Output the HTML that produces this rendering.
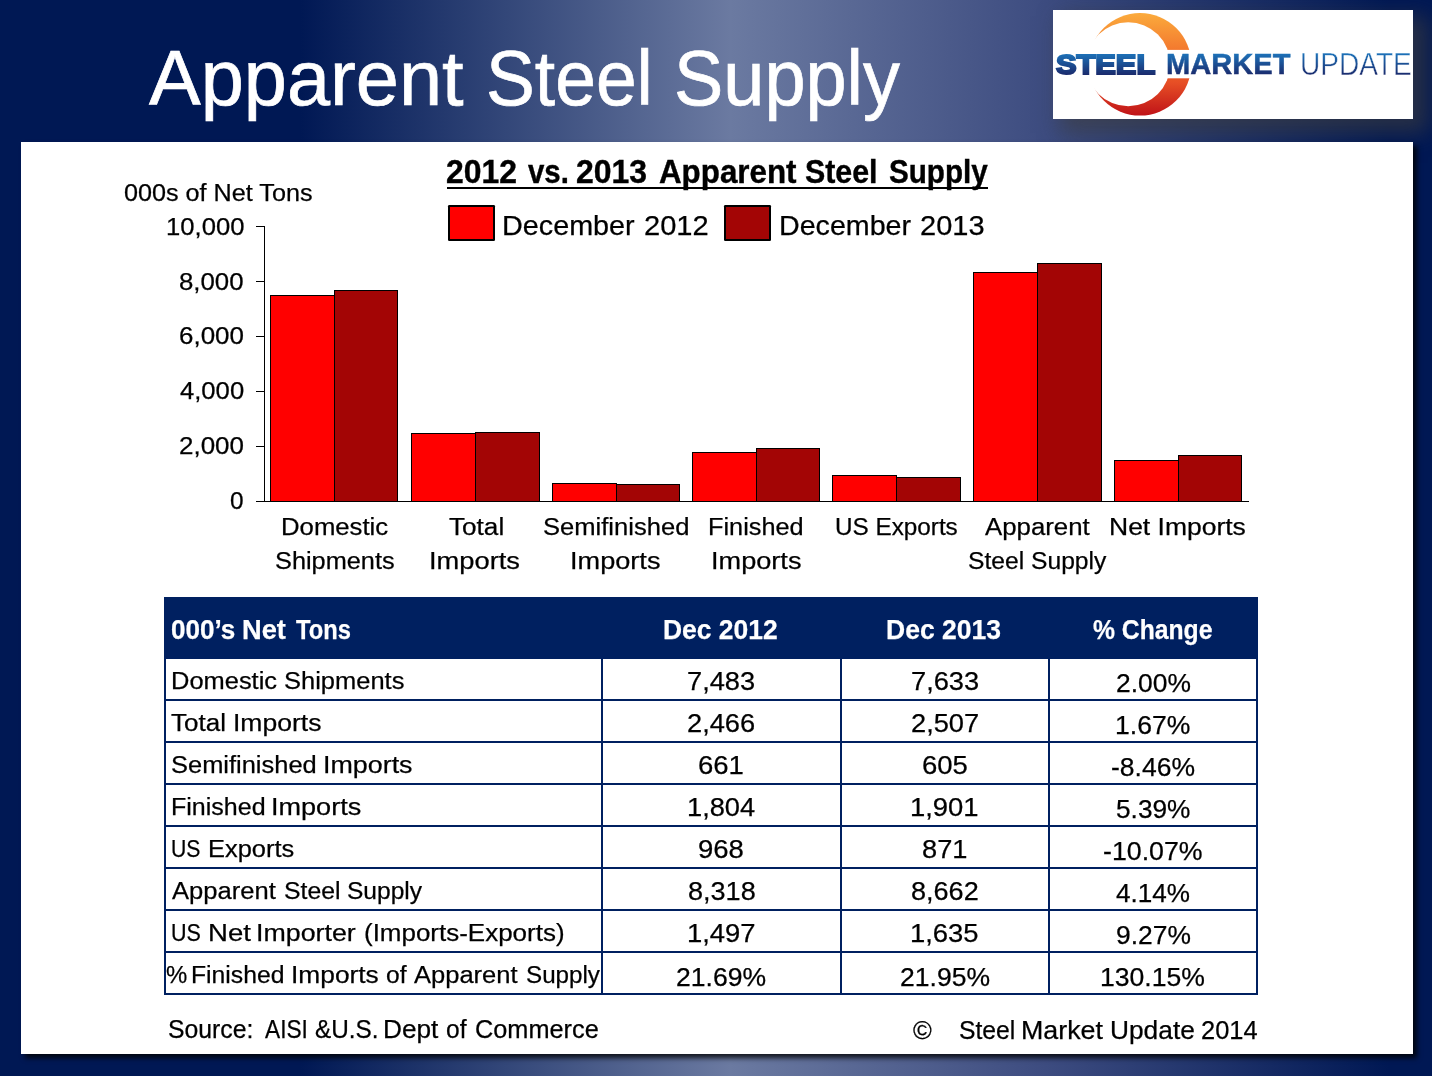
<!DOCTYPE html>
<html><head><meta charset="utf-8"><title>Apparent Steel Supply</title>
<style>
html,body{margin:0;padding:0}
body{width:1432px;height:1076px;overflow:hidden;position:relative;font-family:"Liberation Sans",sans-serif;
background:linear-gradient(to right,#001854 0%,#001854 21%,#6b7aa1 51%,#3d4c80 73%,#001854 97%,#001854 100%)}
.panel{position:absolute;left:21px;top:142px;width:1392px;height:912px;background:#fff;box-shadow:4px 4px 5px rgba(0,0,0,0.8)}
.t{position:absolute;white-space:nowrap;line-height:0;transform-origin:0 0;-webkit-text-stroke:0.25px currentColor}
.ln{position:absolute;background:#000}
.bar{position:absolute;box-sizing:border-box;border:1px solid #000}
.lg{position:absolute;background:#000;border-radius:1.2px}
.lg i{position:absolute;left:1.8px;top:1.8px;right:1.8px;bottom:1.8px}
</style></head><body>
<div style="position:absolute;left:1053px;top:10px;width:360px;height:109px;box-shadow:11px 10px 20px 4px rgba(62,62,62,0.62)"></div>
<div class="panel"></div>
<svg style="position:absolute;left:1053px;top:10px" width="360" height="109" viewBox="1053 10 360 109">
<defs>
<linearGradient id="og" x1="0" y1="13" x2="0" y2="116" gradientUnits="userSpaceOnUse"><stop offset="0" stop-color="#fbab3c"/><stop offset="0.42" stop-color="#f2702c"/><stop offset="0.68" stop-color="#e64e25"/><stop offset="1" stop-color="#bf1218"/></linearGradient>
<linearGradient id="bg" x1="0" y1="53" x2="0" y2="75" gradientUnits="userSpaceOnUse"><stop offset="0" stop-color="#1d74bb"/><stop offset="1" stop-color="#1a2a6c"/></linearGradient>
<mask id="mk"><rect x="1053" y="10" width="360" height="109" fill="#fff"/><circle cx="1128.2" cy="64.3" r="42.0" fill="#000"/><rect x="1053" y="49.9" width="360" height="28.4" fill="#000"/></mask>
</defs>
<rect x="1053" y="10" width="360" height="109" fill="#fff"/>
<circle cx="1140" cy="64.3" r="51.3" fill="url(#og)" mask="url(#mk)"/>
<g font-family="Liberation Sans, sans-serif" fill="url(#bg)" opacity="0.995">
<text x="1055.9" y="74.0" font-size="27.8" font-weight="bold" stroke="url(#bg)" stroke-width="2.0" textLength="99.4" lengthAdjust="spacingAndGlyphs">STEEL</text>
<text x="1166.1" y="74.2" font-size="29.8" font-weight="bold" stroke="url(#bg)" stroke-width="0.5" textLength="124.4" lengthAdjust="spacingAndGlyphs">MARKET</text>
<text x="1300.0" y="74.5" font-size="30.6" stroke="#fff" stroke-width="0.45" textLength="111.8" lengthAdjust="spacingAndGlyphs">UPDATE</text>
</g>
</svg>
<div class="ln" style="left:264px;top:226px;width:1px;height:276px"></div>
<div class="ln" style="left:256px;top:226px;width:8px;height:1px"></div>
<div class="ln" style="left:256px;top:281px;width:8px;height:1px"></div>
<div class="ln" style="left:256px;top:336px;width:8px;height:1px"></div>
<div class="ln" style="left:256px;top:391px;width:8px;height:1px"></div>
<div class="ln" style="left:256px;top:446px;width:8px;height:1px"></div>
<div class="bar" style="left:270px;top:295px;width:65px;height:207px;background:#ff0000"></div>
<div class="bar" style="left:334px;top:290px;width:64px;height:212px;background:#a30505"></div>
<div class="bar" style="left:411px;top:433px;width:65px;height:69px;background:#ff0000"></div>
<div class="bar" style="left:475px;top:432px;width:65px;height:70px;background:#a30505"></div>
<div class="bar" style="left:552px;top:483px;width:65px;height:19px;background:#ff0000"></div>
<div class="bar" style="left:616px;top:484px;width:64px;height:18px;background:#a30505"></div>
<div class="bar" style="left:692px;top:452px;width:65px;height:50px;background:#ff0000"></div>
<div class="bar" style="left:756px;top:448px;width:64px;height:54px;background:#a30505"></div>
<div class="bar" style="left:832px;top:475px;width:65px;height:27px;background:#ff0000"></div>
<div class="bar" style="left:896px;top:477px;width:65px;height:25px;background:#a30505"></div>
<div class="bar" style="left:973px;top:272px;width:65px;height:230px;background:#ff0000"></div>
<div class="bar" style="left:1037px;top:263px;width:65px;height:239px;background:#a30505"></div>
<div class="bar" style="left:1114px;top:460px;width:65px;height:42px;background:#ff0000"></div>
<div class="bar" style="left:1178px;top:455px;width:64px;height:47px;background:#a30505"></div>
<div class="ln" style="left:256px;top:501px;width:993px;height:1px"></div>
<div class="lg" style="left:448px;top:205.1px;width:46.8px;height:35.7px"><i style="background:#ff0000"></i></div>
<div class="lg" style="left:724.2px;top:205.1px;width:46.8px;height:35.7px"><i style="background:#a30505"></i></div>
<div style="position:absolute;left:447px;top:187.2px;width:541px;height:2.2px;background:#000"></div>
<div style="position:absolute;left:164px;top:596.7px;width:1094px;height:62px;background:#002060"></div>
<div style="position:absolute;left:164px;top:699.00px;width:1094px;height:2px;background:#002060"></div>
<div style="position:absolute;left:164px;top:741.00px;width:1094px;height:2px;background:#002060"></div>
<div style="position:absolute;left:164px;top:783.00px;width:1094px;height:2px;background:#002060"></div>
<div style="position:absolute;left:164px;top:825.00px;width:1094px;height:2px;background:#002060"></div>
<div style="position:absolute;left:164px;top:867.00px;width:1094px;height:2px;background:#002060"></div>
<div style="position:absolute;left:164px;top:909.00px;width:1094px;height:2px;background:#002060"></div>
<div style="position:absolute;left:164px;top:951.00px;width:1094px;height:2px;background:#002060"></div>
<div style="position:absolute;left:164px;top:993.00px;width:1094px;height:2px;background:#002060"></div>
<div style="position:absolute;left:164px;top:658px;width:2px;height:337px;background:#002060"></div>
<div style="position:absolute;left:601px;top:658px;width:2px;height:337px;background:#002060"></div>
<div style="position:absolute;left:840px;top:658px;width:2px;height:337px;background:#002060"></div>
<div style="position:absolute;left:1048px;top:658px;width:2px;height:337px;background:#002060"></div>
<div style="position:absolute;left:1256px;top:658px;width:2px;height:337px;background:#002060"></div>
<div class="t" style="left:149.00px;top:78.25px;font-size:77.14px;font-weight:normal;color:#fff;transform:scaleX(1.0052);-webkit-text-stroke:0.7px #fff;">Apparent</div>
<div class="t" style="left:486.31px;top:78.25px;font-size:77.14px;font-weight:normal;color:#fff;transform:scaleX(0.9493);-webkit-text-stroke:0.7px #fff;">Steel</div>
<div class="t" style="left:674.39px;top:78.25px;font-size:77.14px;font-weight:normal;color:#fff;transform:scaleX(0.9582);-webkit-text-stroke:0.7px #fff;">Supply</div>
<div class="t" style="left:446.20px;top:172.25px;font-size:32.43px;font-weight:bold;color:#000;transform:scaleX(0.9827);-webkit-text-stroke:0.4px #000;">2012</div>
<div class="t" style="left:528.00px;top:172.25px;font-size:32.43px;font-weight:bold;color:#000;transform:scaleX(0.9058);-webkit-text-stroke:0.4px #000;">vs.</div>
<div class="t" style="left:575.90px;top:172.25px;font-size:32.43px;font-weight:bold;color:#000;transform:scaleX(0.9841);-webkit-text-stroke:0.4px #000;">2013</div>
<div class="t" style="left:658.51px;top:172.25px;font-size:32.43px;font-weight:bold;color:#000;transform:scaleX(0.9663);-webkit-text-stroke:0.4px #000;">Apparent</div>
<div class="t" style="left:805.23px;top:172.25px;font-size:32.43px;font-weight:bold;color:#000;transform:scaleX(0.9363);-webkit-text-stroke:0.4px #000;">Steel</div>
<div class="t" style="left:888.54px;top:172.25px;font-size:32.43px;font-weight:bold;color:#000;transform:scaleX(0.9137);-webkit-text-stroke:0.4px #000;">Supply</div>
<div class="t" style="left:123.81px;top:192.75px;font-size:24.29px;font-weight:normal;color:#000;transform:scaleX(1.0369);">000s of Net Tons</div>
<div class="t" style="left:502.25px;top:225.75px;font-size:28.00px;font-weight:normal;color:#000;transform:scaleX(1.0273);">December</div>
<div class="t" style="left:643.94px;top:225.75px;font-size:28.00px;font-weight:normal;color:#000;transform:scaleX(1.0394);">2012</div>
<div class="t" style="left:778.66px;top:225.75px;font-size:28.00px;font-weight:normal;color:#000;transform:scaleX(1.0226);">December</div>
<div class="t" style="left:919.64px;top:225.75px;font-size:28.00px;font-weight:normal;color:#000;transform:scaleX(1.0361);">2013</div>
<div class="t" style="left:165.50px;top:226.75px;font-size:24.29px;font-weight:normal;color:#000;transform:scaleX(1.0560);">10,000</div>
<div class="t" style="left:179.39px;top:281.75px;font-size:24.29px;font-weight:normal;color:#000;transform:scaleX(1.0621);">8,000</div>
<div class="t" style="left:178.98px;top:335.75px;font-size:24.29px;font-weight:normal;color:#000;transform:scaleX(1.0689);">6,000</div>
<div class="t" style="left:179.80px;top:390.75px;font-size:24.29px;font-weight:normal;color:#000;transform:scaleX(1.0554);">4,000</div>
<div class="t" style="left:178.98px;top:445.75px;font-size:24.29px;font-weight:normal;color:#000;transform:scaleX(1.0689);">2,000</div>
<div class="t" style="left:230.34px;top:500.75px;font-size:24.29px;font-weight:normal;color:#000;transform:scaleX(1.0047);">0</div>
<div class="t" style="left:280.55px;top:526.75px;font-size:24.29px;font-weight:normal;color:#000;transform:scaleX(1.0593);">Domestic</div>
<div class="t" style="left:275.17px;top:560.75px;font-size:24.29px;font-weight:normal;color:#000;transform:scaleX(1.0422);">Shipments</div>
<div class="t" style="left:448.51px;top:526.75px;font-size:24.29px;font-weight:normal;color:#000;transform:scaleX(1.0767);">Total</div>
<div class="t" style="left:429.34px;top:560.75px;font-size:24.29px;font-weight:normal;color:#000;transform:scaleX(1.1237);">Imports</div>
<div class="t" style="left:543.09px;top:526.75px;font-size:24.29px;font-weight:normal;color:#000;transform:scaleX(1.0532);">Semifinished</div>
<div class="t" style="left:570.12px;top:560.75px;font-size:24.29px;font-weight:normal;color:#000;transform:scaleX(1.1173);">Imports</div>
<div class="t" style="left:708.42px;top:526.75px;font-size:24.29px;font-weight:normal;color:#000;transform:scaleX(1.0414);">Finished</div>
<div class="t" style="left:710.63px;top:560.75px;font-size:24.29px;font-weight:normal;color:#000;transform:scaleX(1.1173);">Imports</div>
<div class="t" style="left:835.25px;top:526.75px;font-size:24.29px;font-weight:normal;color:#000;transform:scaleX(0.9997);">US Exports</div>
<div class="t" style="left:985.13px;top:526.75px;font-size:24.29px;font-weight:normal;color:#000;transform:scaleX(1.0624);">Apparent</div>
<div class="t" style="left:967.96px;top:560.75px;font-size:24.29px;font-weight:normal;color:#000;transform:scaleX(1.0148);">Steel Supply</div>
<div class="t" style="left:1108.97px;top:526.75px;font-size:24.29px;font-weight:normal;color:#000;transform:scaleX(1.0907);">Net Imports</div>
<div class="t" style="left:171.39px;top:630.25px;font-size:26.86px;font-weight:bold;color:#fff;transform:scaleX(0.9707);">000’s</div>
<div class="t" style="left:242.30px;top:630.25px;font-size:26.86px;font-weight:bold;color:#fff;transform:scaleX(1.0129);">Net</div>
<div class="t" style="left:295.80px;top:630.25px;font-size:26.86px;font-weight:bold;color:#fff;transform:scaleX(0.8842);">Tons</div>
<div class="t" style="left:662.90px;top:630.25px;font-size:26.86px;font-weight:bold;color:#fff;transform:scaleX(0.9840);">Dec 2012</div>
<div class="t" style="left:886.19px;top:630.25px;font-size:26.86px;font-weight:bold;color:#fff;transform:scaleX(0.9875);">Dec 2013</div>
<div class="t" style="left:1093.21px;top:630.25px;font-size:26.86px;font-weight:bold;color:#fff;transform:scaleX(0.9197);">% Change</div>
<div class="t" style="left:170.81px;top:680.75px;font-size:24.29px;font-weight:normal;color:#000;transform:scaleX(1.0482);">Domestic</div>
<div class="t" style="left:283.70px;top:680.75px;font-size:24.29px;font-weight:normal;color:#000;transform:scaleX(1.0493);">Shipments</div>
<div class="t" style="left:687.12px;top:681.25px;font-size:25.71px;font-weight:normal;color:#000;transform:scaleX(1.0596);">7,483</div>
<div class="t" style="left:910.62px;top:681.25px;font-size:25.71px;font-weight:normal;color:#000;transform:scaleX(1.0596);">7,633</div>
<div class="t" style="left:1115.61px;top:683.25px;font-size:26.14px;font-weight:normal;color:#000;transform:scaleX(1.0108);">2.00%</div>
<div class="t" style="left:170.89px;top:722.75px;font-size:24.29px;font-weight:normal;color:#000;transform:scaleX(1.0706);">Total</div>
<div class="t" style="left:232.93px;top:722.75px;font-size:24.29px;font-weight:normal;color:#000;transform:scaleX(1.0918);">Imports</div>
<div class="t" style="left:687.12px;top:723.25px;font-size:25.71px;font-weight:normal;color:#000;transform:scaleX(1.0596);">2,466</div>
<div class="t" style="left:910.62px;top:723.25px;font-size:25.71px;font-weight:normal;color:#000;transform:scaleX(1.0596);">2,507</div>
<div class="t" style="left:1115.19px;top:725.25px;font-size:26.14px;font-weight:normal;color:#000;transform:scaleX(1.0165);">1.67%</div>
<div class="t" style="left:171.00px;top:764.75px;font-size:24.29px;font-weight:normal;color:#000;transform:scaleX(1.0481);">Semifinished</div>
<div class="t" style="left:323.00px;top:764.75px;font-size:24.29px;font-weight:normal;color:#000;transform:scaleX(1.1058);">Imports</div>
<div class="t" style="left:698.26px;top:765.25px;font-size:25.71px;font-weight:normal;color:#000;transform:scaleX(1.0700);">661</div>
<div class="t" style="left:921.76px;top:765.25px;font-size:25.71px;font-weight:normal;color:#000;transform:scaleX(1.0700);">605</div>
<div class="t" style="left:1111.27px;top:767.25px;font-size:26.14px;font-weight:normal;color:#000;transform:scaleX(1.0143);">-8.46%</div>
<div class="t" style="left:170.85px;top:806.75px;font-size:24.29px;font-weight:normal;color:#000;transform:scaleX(1.0301);">Finished</div>
<div class="t" style="left:271.28px;top:806.75px;font-size:24.29px;font-weight:normal;color:#000;transform:scaleX(1.1148);">Imports</div>
<div class="t" style="left:686.70px;top:807.25px;font-size:25.71px;font-weight:normal;color:#000;transform:scaleX(1.0596);">1,804</div>
<div class="t" style="left:910.19px;top:807.25px;font-size:25.71px;font-weight:normal;color:#000;transform:scaleX(1.0665);">1,901</div>
<div class="t" style="left:1116.03px;top:809.25px;font-size:26.14px;font-weight:normal;color:#000;transform:scaleX(1.0051);">5.39%</div>
<div class="t" style="left:171.48px;top:848.75px;font-size:24.29px;font-weight:normal;color:#000;transform:scaleX(0.8718);">US</div>
<div class="t" style="left:207.91px;top:848.75px;font-size:24.29px;font-weight:normal;color:#000;transform:scaleX(1.0467);">Exports</div>
<div class="t" style="left:698.26px;top:849.25px;font-size:25.71px;font-weight:normal;color:#000;transform:scaleX(1.0700);">968</div>
<div class="t" style="left:922.20px;top:849.25px;font-size:25.71px;font-weight:normal;color:#000;transform:scaleX(1.0595);">871</div>
<div class="t" style="left:1103.46px;top:851.25px;font-size:26.14px;font-weight:normal;color:#000;transform:scaleX(1.0232);">-10.07%</div>
<div class="t" style="left:172.20px;top:890.75px;font-size:24.29px;font-weight:normal;color:#000;transform:scaleX(1.0532);">Apparent</div>
<div class="t" style="left:284.13px;top:890.75px;font-size:24.29px;font-weight:normal;color:#000;transform:scaleX(1.0209);">Steel</div>
<div class="t" style="left:347.03px;top:890.75px;font-size:24.29px;font-weight:normal;color:#000;transform:scaleX(1.0109);">Supply</div>
<div class="t" style="left:687.55px;top:891.25px;font-size:25.71px;font-weight:normal;color:#000;transform:scaleX(1.0528);">8,318</div>
<div class="t" style="left:911.05px;top:891.25px;font-size:25.71px;font-weight:normal;color:#000;transform:scaleX(1.0528);">8,662</div>
<div class="t" style="left:1116.44px;top:893.25px;font-size:26.14px;font-weight:normal;color:#000;transform:scaleX(0.9995);">4.14%</div>
<div class="t" style="left:171.26px;top:932.75px;font-size:24.29px;font-weight:normal;color:#000;transform:scaleX(0.8846);">US</div>
<div class="t" style="left:208.15px;top:932.75px;font-size:24.29px;font-weight:normal;color:#000;transform:scaleX(1.1340);">Net</div>
<div class="t" style="left:255.91px;top:932.75px;font-size:24.29px;font-weight:normal;color:#000;transform:scaleX(1.1029);">Importer</div>
<div class="t" style="left:363.68px;top:932.75px;font-size:24.29px;font-weight:normal;color:#000;transform:scaleX(1.0693);">(Imports-Exports)</div>
<div class="t" style="left:686.69px;top:933.25px;font-size:25.71px;font-weight:normal;color:#000;transform:scaleX(1.0665);">1,497</div>
<div class="t" style="left:910.19px;top:933.25px;font-size:25.71px;font-weight:normal;color:#000;transform:scaleX(1.0665);">1,635</div>
<div class="t" style="left:1115.61px;top:935.25px;font-size:26.14px;font-weight:normal;color:#000;transform:scaleX(1.0108);">9.27%</div>
<div class="t" style="left:166.15px;top:974.75px;font-size:24.29px;font-weight:normal;color:#000;transform:scaleX(0.9845);">%</div>
<div class="t" style="left:191.07px;top:974.75px;font-size:24.29px;font-weight:normal;color:#000;transform:scaleX(1.0188);">Finished</div>
<div class="t" style="left:290.54px;top:974.75px;font-size:24.29px;font-weight:normal;color:#000;transform:scaleX(1.0841);">Imports</div>
<div class="t" style="left:386.13px;top:974.75px;font-size:24.29px;font-weight:normal;color:#000;transform:scaleX(1.0113);">of</div>
<div class="t" style="left:413.90px;top:974.75px;font-size:24.29px;font-weight:normal;color:#000;transform:scaleX(1.0512);">Apparent</div>
<div class="t" style="left:526.24px;top:974.75px;font-size:24.29px;font-weight:normal;color:#000;transform:scaleX(0.9960);">Supply</div>
<div class="t" style="left:676.06px;top:977.25px;font-size:25.71px;font-weight:normal;color:#000;transform:scaleX(1.0324);">21.69%</div>
<div class="t" style="left:899.56px;top:977.25px;font-size:25.71px;font-weight:normal;color:#000;transform:scaleX(1.0324);">21.95%</div>
<div class="t" style="left:1100.34px;top:977.25px;font-size:26.14px;font-weight:normal;color:#000;transform:scaleX(1.0179);">130.15%</div>
<div class="t" style="left:168.03px;top:1029.25px;font-size:24.86px;font-weight:normal;color:#000;transform:scaleX(0.9959);">Source:</div>
<div class="t" style="left:265.30px;top:1029.25px;font-size:24.86px;font-weight:normal;color:#000;transform:scaleX(0.9122);">AISI</div>
<div class="t" style="left:314.84px;top:1029.25px;font-size:24.86px;font-weight:normal;color:#000;transform:scaleX(0.9790);">&amp;U.S.</div>
<div class="t" style="left:382.65px;top:1029.25px;font-size:24.86px;font-weight:normal;color:#000;transform:scaleX(1.0543);">Dept</div>
<div class="t" style="left:445.83px;top:1029.25px;font-size:24.86px;font-weight:normal;color:#000;transform:scaleX(0.9881);">of</div>
<div class="t" style="left:474.61px;top:1029.25px;font-size:24.86px;font-weight:normal;color:#000;transform:scaleX(1.0178);">Commerce</div>
<div class="t" style="left:913.00px;top:1030.25px;font-size:24.86px;font-weight:normal;color:#000;transform:scaleX(1.0244);">©</div>
<div class="t" style="left:958.83px;top:1030.25px;font-size:24.86px;font-weight:normal;color:#000;transform:scaleX(0.9937);">Steel</div>
<div class="t" style="left:1020.91px;top:1030.25px;font-size:24.86px;font-weight:normal;color:#000;transform:scaleX(1.0781);">Market</div>
<div class="t" style="left:1109.66px;top:1030.25px;font-size:24.86px;font-weight:normal;color:#000;transform:scaleX(1.0581);">Update</div>
<div class="t" style="left:1200.61px;top:1030.25px;font-size:24.86px;font-weight:normal;color:#000;transform:scaleX(1.0222);">2014</div>
</body></html>
